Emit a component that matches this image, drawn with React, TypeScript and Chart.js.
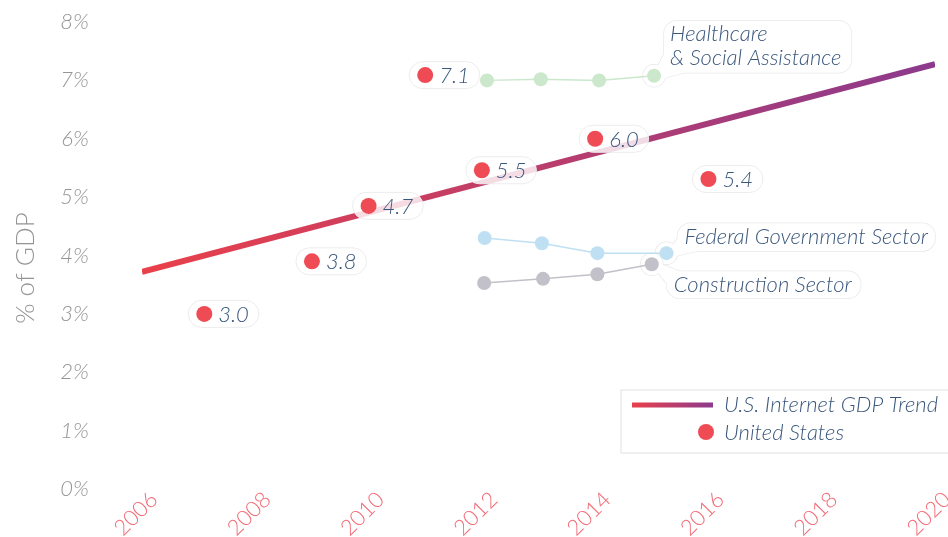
import React, { useEffect, useRef } from 'react';
import { Chart, registerables } from 'chart.js';

Chart.register(...registerables);

// ---- data ----
const trendYears = [2006, 2020];
const trendValues = [3.72, 7.28];

const usYears = [2007.1, 2009, 2010, 2011, 2012, 2014, 2016];
const usValues = [3.0, 3.9, 4.85, 7.09, 5.46, 6.0, 5.31];
const usLabels = ['3.0', '3.8', '4.7', '7.1', '5.5', '6.0', '5.4'];

const healthYears = [2012.09, 2013.04, 2014.07, 2015.04];
const healthValues = [7.0, 7.02, 7.0, 7.08];

const fedYears = [2012.05, 2013.06, 2014.04, 2015.26];
const fedValues = [4.3, 4.21, 4.04, 4.04];

const constrYears = [2012.04, 2013.08, 2014.04, 2015.0];
const constrValues = [3.53, 3.6, 3.68, 3.85];

const xTickYears = [2006, 2008, 2010, 2012, 2014, 2016, 2018, 2020];

const sectorNames = [['Healthcare', '& Social Assistance'], ['Federal Government Sector'], ['Construction Sector']];
const legendLabels = ['U.S. Internet GDP Trend', 'United States'];
const yTitle = '% of GDP';

const FAMILY = "Lato, 'Open Sans', 'Noto Sans', sans-serif";
const LABEL_FONT = `italic 300 22px ${FAMILY}`;
const TEXT_COLOR = '#3a577c';
const RED = '#ef4b55';
const RED_LINE = '#e9404a';
const PURPLE = '#8c3a8d';

const pts = (xs: number[], ys: number[]) => xs.map((x, i) => ({ x, y: ys[i] }));

function bubbleUnion(ctx: CanvasRenderingContext2D, rect: number[], cx: number, cy: number, tail: number[][]) {
  const [rx, ry, rw, rh] = rect;
  const shapes: (() => void)[] = [
    () => { ctx.beginPath(); ctx.roundRect(rx, ry, rw, rh, 13); },
    () => { ctx.beginPath(); ctx.arc(cx, cy, 11, 0, Math.PI * 2); },
    () => { ctx.beginPath(); ctx.moveTo(tail[0][0], tail[0][1]); for (let i = 1; i < tail.length; i++) ctx.lineTo(tail[i][0], tail[i][1]); ctx.closePath(); },
  ];
  ctx.strokeStyle = '#e9e9e9';
  ctx.lineWidth = 1.5;
  shapes.forEach((s) => { s(); ctx.stroke(); });
  ctx.fillStyle = '#ffffff';
  shapes.forEach((s) => { s(); ctx.fill(); });
}

const labelPlugin = {
  id: 'customLabels',
  afterDatasetDraw(chart: any, args: any) {
    if (args.index !== 0) return;
    const ctx: CanvasRenderingContext2D = chart.ctx;
    const xs = chart.scales.x;
    const ys = chart.scales.y;
    ctx.save();
    ctx.font = LABEL_FONT;
    usYears.forEach((yr, i) => {
      const px = xs.getPixelForValue(yr);
      const py = ys.getPixelForValue(usValues[i]);
      const tw = ctx.measureText(usLabels[i]).width;
      const h = 27;
      const x0 = px - 16;
      const w = 16 + 14 + tw + 10;
      ctx.beginPath();
      ctx.roundRect(x0, py - h / 2, w, h, h / 2);
      ctx.fillStyle = 'rgba(255,255,255,0.82)';
      ctx.fill();
      ctx.strokeStyle = '#ececec';
      ctx.lineWidth = 1;
      ctx.stroke();
    });
    const lastPts = [
      [xs.getPixelForValue(healthYears[3]), ys.getPixelForValue(healthValues[3])],
      [xs.getPixelForValue(fedYears[3]), ys.getPixelForValue(fedValues[3])],
      [xs.getPixelForValue(constrYears[3]), ys.getPixelForValue(constrValues[3])],
    ];
    {
      const [px, py] = lastPts[0];
      const tw = Math.max(...sectorNames[0].map((t) => ctx.measureText(t).width));
      const rect = [px + 10, py - 55, tw + 16, 52];
      bubbleUnion(ctx, rect, px, py, [[px - 4, py + 6], [px + 10, py - 22], [px + 30, py - 3]]);
    }
    {
      const [px, py] = lastPts[1];
      const tw = ctx.measureText(sectorNames[1][0]).width;
      const rect = [px + 11, py - 30, tw + 14, 28];
      bubbleUnion(ctx, rect, px, py, [[px - 4, py + 6], [px + 12, py - 16], [px + 30, py - 2]]);
    }
    {
      const [px, py] = lastPts[2];
      const tw = ctx.measureText(sectorNames[2][0]).width;
      const rect = [px + 15, py + 7, tw + 16, 27];
      bubbleUnion(ctx, rect, px, py, [[px - 5, py - 6], [px + 30, py + 8], [px + 17, py + 22]]);
    }
    ctx.restore();
  },
  afterDatasetsDraw(chart: any) {
    const ctx: CanvasRenderingContext2D = chart.ctx;
    const xs = chart.scales.x;
    const ys = chart.scales.y;
    ctx.save();
    ctx.font = LABEL_FONT;
    ctx.fillStyle = TEXT_COLOR;
    ctx.textBaseline = 'middle';
    ctx.textAlign = 'left';
    usYears.forEach((yr, i) => {
      const px = xs.getPixelForValue(yr);
      const py = ys.getPixelForValue(usValues[i]);
      ctx.fillText(usLabels[i], px + 14, py + 1);
    });
    {
      const px = xs.getPixelForValue(healthYears[3]);
      const py = ys.getPixelForValue(healthValues[3]);
      ctx.fillText(sectorNames[0][0], px + 16, py - 42);
      ctx.fillText(sectorNames[0][1], px + 16, py - 18);
    }
    {
      const px = xs.getPixelForValue(fedYears[3]);
      const py = ys.getPixelForValue(fedValues[3]);
      ctx.fillText(sectorNames[1][0], px + 18, py - 16);
    }
    {
      const px = xs.getPixelForValue(constrYears[3]);
      const py = ys.getPixelForValue(constrValues[3]);
      ctx.fillText(sectorNames[2][0], px + 22, py + 21);
    }
    ctx.restore();
  },
  afterDraw(chart: any) {
    const ctx: CanvasRenderingContext2D = chart.ctx;
    const xs = chart.scales.x;
    ctx.save();
    ctx.font = `300 22px ${FAMILY}`;
    ctx.fillStyle = '#f26b76';
    ctx.textAlign = 'center';
    ctx.textBaseline = 'middle';
    xTickYears.forEach((yr) => {
      const px = xs.getPixelForValue(yr);
      ctx.save();
      ctx.translate(px - 6, 514);
      ctx.rotate(-Math.PI / 4);
      ctx.fillText(String(yr), 0, 0);
      ctx.restore();
    });
    ctx.restore();

    ctx.save();
    ctx.translate(26, 268);
    ctx.rotate(-Math.PI / 2);
    ctx.font = `300 26px ${FAMILY}`;
    ctx.fillStyle = '#959595';
    ctx.textAlign = 'center';
    ctx.textBaseline = 'middle';
    ctx.fillText(yTitle, 0, 0);
    ctx.restore();

    ctx.save();
    ctx.beginPath();
    ctx.rect(621, 390, 340, 63);
    ctx.fillStyle = '#ffffff';
    ctx.fill();
    ctx.strokeStyle = '#ececec';
    ctx.lineWidth = 1.5;
    ctx.stroke();
    const g = ctx.createLinearGradient(632, 0, 713, 0);
    g.addColorStop(0, RED_LINE);
    g.addColorStop(1, PURPLE);
    ctx.strokeStyle = g;
    ctx.lineWidth = 5;
    ctx.beginPath();
    ctx.moveTo(632, 405);
    ctx.lineTo(713, 405);
    ctx.stroke();
    ctx.fillStyle = RED;
    ctx.beginPath();
    ctx.arc(706, 432, 8, 0, Math.PI * 2);
    ctx.fill();
    ctx.font = LABEL_FONT;
    ctx.fillStyle = TEXT_COLOR;
    ctx.textBaseline = 'middle';
    ctx.fillText(legendLabels[0], 724, 405);
    ctx.fillText(legendLabels[1], 724, 433);
    ctx.restore();
  },
};

export default function App() {
  const ref = useRef<HTMLCanvasElement | null>(null);
  useEffect(() => {
    if (!ref.current) return;
    const chart = new Chart(ref.current, {
      type: 'line',
      data: {
        datasets: [
          {
            label: 'trend',
            data: pts(trendYears, trendValues),
            borderWidth: 6,
            pointRadius: 0,
            borderCapStyle: 'butt',
            order: 4,
            borderColor: (c: any) => {
              const ca = c.chart.chartArea;
              if (!ca) return RED_LINE;
              const g = c.chart.ctx.createLinearGradient(ca.left, 0, ca.right, 0);
              g.addColorStop(0, RED_LINE);
              g.addColorStop(1, PURPLE);
              return g;
            },
          } as any,
          {
            label: 'health',
            data: pts(healthYears, healthValues),
            borderColor: '#cbe8cc',
            borderWidth: 1.5,
            pointRadius: 7,
            pointBackgroundColor: '#cbe8cc',
            pointBorderWidth: 0,
            order: 3,
          },
          {
            label: 'fed',
            data: pts(fedYears, fedValues),
            borderColor: '#bfe0f2',
            borderWidth: 1.5,
            pointRadius: 7,
            pointBackgroundColor: '#bfe0f2',
            pointBorderWidth: 0,
            order: 3,
          },
          {
            label: 'constr',
            data: pts(constrYears, constrValues),
            borderColor: '#c2c1c9',
            borderWidth: 1.5,
            pointRadius: 7,
            pointBackgroundColor: '#c2c1c9',
            pointBorderWidth: 0,
            order: 3,
          },
          {
            label: 'United States',
            data: pts(usYears, usValues),
            showLine: false,
            pointRadius: 8,
            pointBackgroundColor: RED,
            pointBorderWidth: 0,
            order: 1,
          },
        ],
      },
      options: {
        animation: false,
        responsive: true,
        maintainAspectRatio: false,
        layout: { padding: { top: 22, right: 13, left: 0, bottom: 0 } },
        plugins: { legend: { display: false }, tooltip: { enabled: false } },
        scales: {
          x: {
            type: 'linear',
            min: 2006,
            max: 2020,
            grid: { display: false },
            border: { display: false },
            ticks: { display: false, stepSize: 2 },
            afterFit: (s: any) => {
              s.height = 48;
              s.paddingLeft = 0;
              s.paddingRight = 0;
            },
          },
          y: {
            min: 0,
            max: 8,
            grid: { display: false },
            border: { display: false },
            ticks: {
              stepSize: 1,
              padding: 45,
              color: '#959595',
              font: { family: FAMILY, size: 22, style: 'italic', weight: '300' as any },
              callback: (v: any) => v + '%',
            },
            afterFit: (s: any) => {
              s.width = 142;
              s.paddingTop = 0;
              s.paddingBottom = 0;
            },
          },
        },
      },
      plugins: [labelPlugin],
    });
    return () => chart.destroy();
  }, []);
  return (
    <div style={{ position: 'fixed', left: 0, top: 0, width: 948, height: 537, background: '#fff' }}>
      <canvas ref={ref} />
    </div>
  );
}
